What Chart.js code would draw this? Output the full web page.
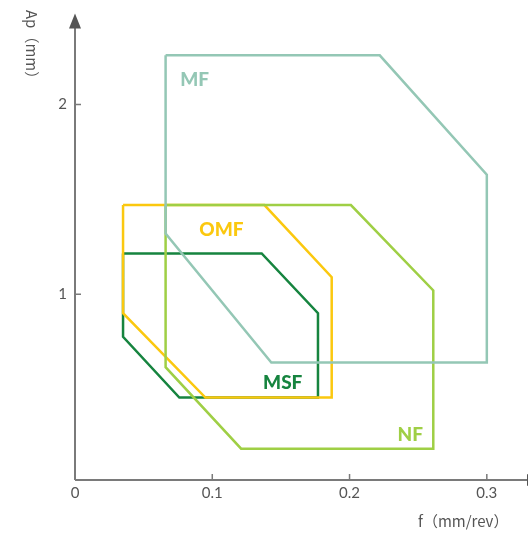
<!DOCTYPE html>
<html>
<head>
<meta charset="utf-8">
<script src="https://cdn.jsdelivr.net/npm/chart.js@4/dist/chart.umd.min.js"></script>
<style>
  html, body { margin: 0; padding: 0; background: #fff; }
  #wrap { width: 528px; height: 534px; }
</style>
</head>
<body>
<div id="wrap"><canvas id="myChart"></canvas></div>
<script>
// Datos de cada zona (f en mm/rev, Ap en mm)
const mfX  = [0.066, 0.222, 0.300, 0.300, 0.143, 0.066, 0.066];
const mfY  = [2.26, 2.26, 1.63, 0.64, 0.64, 1.32, 2.26];
const nfX  = [0.066, 0.201, 0.261, 0.261, 0.121, 0.066, 0.066];
const nfY  = [1.47, 1.47, 1.02, 0.185, 0.185, 0.615, 1.47];
const omfX = [0.035, 0.138, 0.187, 0.187, 0.095, 0.035, 0.035];
const omfY = [1.47, 1.47, 1.09, 0.455, 0.455, 0.90, 1.47];
const msfX = [0.035, 0.136, 0.177, 0.177, 0.076, 0.035, 0.035];
const msfY = [1.215, 1.215, 0.90, 0.455, 0.455, 0.775, 1.215];

const xTicks = [0, 0.1, 0.2, 0.3];
const yTicks = [1, 2];

// Etiquetas de cada zona: nombre, posición (x, y en datos), color
const zoneNames  = ['MF', 'OMF', 'MSF', 'NF'];
const zoneLabelX = [0.0766, 0.0905, 0.137, 0.235];
const zoneLabelY = [2.13, 1.337, 0.532, 0.258];
const zoneColors = ['#94c7b5', '#fbc80f', '#16843f', '#9fcf45'];

const toPoints = (xs, ys) => xs.map((x, i) => ({ x: x, y: ys[i] }));

const series = [
  { data: toPoints(mfX, mfY),   color: zoneColors[0] },
  { data: toPoints(nfX, nfY),   color: zoneColors[3] },
  { data: toPoints(omfX, omfY), color: zoneColors[1] },
  { data: toPoints(msfX, msfY), color: zoneColors[2] },
];

// Plugin para ejes con flechas, marcas y textos
const axesPlugin = {
  id: 'axesPlugin',
  afterDatasetsDraw(chart) {
    const { ctx, chartArea, scales } = chart;
    const xs = scales.x, ys = scales.y;
    const x0 = chartArea.left, y0 = chartArea.bottom;
    const yTop = ys.getPixelForValue(2.48);
    ctx.save();

    // etiquetas de zonas
    ctx.font = '900 19px Lato';
    ctx.textBaseline = 'middle';
    ctx.textAlign = 'left';
    zoneNames.forEach((n, i) => {
      ctx.fillStyle = zoneColors[i];
      ctx.fillText(n, xs.getPixelForValue(zoneLabelX[i]), ys.getPixelForValue(zoneLabelY[i]));
    });

    // ejes
    ctx.strokeStyle = '#7a7a7a';
    ctx.lineWidth = 2;
    ctx.beginPath();
    ctx.moveTo(x0, y0);
    ctx.lineTo(x0, yTop + 12);
    ctx.moveTo(x0, y0);
    ctx.lineTo(chartArea.right, y0);
    ctx.stroke();

    // marcas
    ctx.lineWidth = 1.5;
    ctx.beginPath();
    xTicks.slice(1).forEach(v => {
      const px = xs.getPixelForValue(v);
      ctx.moveTo(px, y0);
      ctx.lineTo(px, y0 - 6);
    });
    yTicks.forEach(v => {
      const py = ys.getPixelForValue(v);
      ctx.moveTo(x0, py);
      ctx.lineTo(x0 + 6, py);
    });
    ctx.stroke();

    // flechas
    ctx.fillStyle = '#555';
    ctx.beginPath();
    ctx.moveTo(x0, yTop);
    ctx.lineTo(x0 - 6, yTop + 15);
    ctx.lineTo(x0 + 6, yTop + 15);
    ctx.closePath();
    ctx.fill();
    ctx.beginPath();
    ctx.moveTo(chartArea.right + 14, y0);
    ctx.lineTo(chartArea.right - 1, y0 - 6);
    ctx.lineTo(chartArea.right - 1, y0 + 6);
    ctx.closePath();
    ctx.fill();

    // títulos de ejes
    ctx.fillStyle = '#555';
    ctx.font = '15px "Noto Sans CJK SC"';
    ctx.textAlign = 'left';
    ctx.textBaseline = 'middle';
    ctx.fillText('f（mm/rev）', 418, 521);
    ctx.translate(32, 10);
    ctx.rotate(Math.PI / 2);
    ctx.fillText('Ap（mm）', 0, 0);
    ctx.restore();
  }
};

const ctx = document.getElementById('myChart').getContext('2d');
const chart = new Chart(ctx, {
  type: 'scatter',
  data: {
    datasets: series.map(s => ({
      data: s.data,
      showLine: true,
      borderColor: s.color,
      borderWidth: 2.5,
      pointRadius: 0,
      fill: false,
      tension: 0,
    }))
  },
  options: {
    responsive: true,
    maintainAspectRatio: false,
    animation: false,
    layout: { padding: 0 },
    plugins: {
      legend: { display: false },
      tooltip: { enabled: false },
    },
    scales: {
      x: {
        type: 'linear',
        min: 0,
        max: 0.33,
        afterBuildTicks: s => { s.ticks = xTicks.map(v => ({ value: v })); },
        afterFit: s => { s.height = 54; },
        grid: { display: false, drawTicks: false },
        border: { display: false },
        ticks: {
          padding: 4,
          color: '#555',
          font: { size: 15, family: 'Lato' },
          maxRotation: 0,
          callback: v => String(v),
        },
      },
      y: {
        type: 'linear',
        min: 0.02,
        max: 2.462,
        afterBuildTicks: s => { s.ticks = yTicks.map(v => ({ value: v })); },
        afterFit: s => { s.width = 75; },
        grid: { display: false, drawTicks: false },
        border: { display: false },
        ticks: {
          padding: 8,
          color: '#555',
          font: { size: 15, family: 'Lato' },
          callback: v => String(v),
        },
      },
    },
  },
  plugins: [axesPlugin],
});
</script>
</body>
</html>
